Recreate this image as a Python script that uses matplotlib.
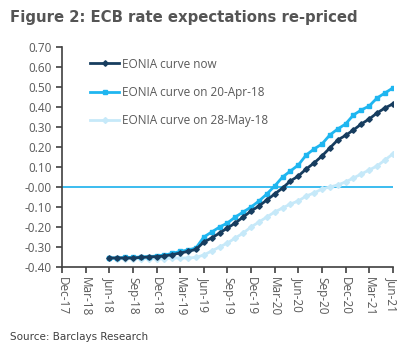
import numpy as np
import pandas as pd
import matplotlib.pyplot as plt

# monthly points Jun-18 .. Jun-21
months = pd.date_range("2018-06-01", "2021-06-01", freq="MS")

eonia_now = [-0.355, -0.355, -0.355, -0.355, -0.352, -0.350, -0.348,
             -0.345, -0.338, -0.330, -0.322, -0.312, -0.275, -0.255, -0.230, -0.205, -0.180, -0.150, -0.120,
             -0.095, -0.065, -0.035, -0.005, 0.030, 0.055, 0.090, 0.120, 0.155, 0.195, 0.235, 0.258,
             0.285, 0.315, 0.340, 0.370, 0.395, 0.415]
eonia_apr = [-0.355, -0.355, -0.352, -0.352, -0.350, -0.348, -0.345,
             -0.340, -0.332, -0.322, -0.315, -0.305, -0.250, -0.225, -0.200, -0.180, -0.150, -0.125, -0.100,
             -0.070, -0.035, 0.005, 0.050, 0.080, 0.110, 0.160, 0.190, 0.215, 0.260, 0.290, 0.315,
             0.360, 0.385, 0.405, 0.445, 0.470, 0.495]
eonia_may = [-0.355, -0.358, -0.358, -0.358, -0.358, -0.358, -0.358,
             -0.358, -0.355, -0.355, -0.355, -0.352, -0.340, -0.320, -0.300, -0.280, -0.255, -0.230, -0.200,
             -0.175, -0.150, -0.125, -0.105, -0.085, -0.070, -0.045, -0.030, -0.010, 0.000, 0.010, 0.025,
             0.045, 0.065, 0.085, 0.105, 0.135, 0.165]

tick_labels = ["Dec-17", "Mar-18", "Jun-18", "Sep-18", "Dec-18", "Mar-19", "Jun-19", "Sep-19",
               "Dec-19", "Mar-20", "Jun-20", "Sep-20", "Dec-20", "Mar-21", "Jun-21"]

# x as months since Dec-17
x = (months.year - 2017) * 12 + months.month - 12

fig = plt.figure(figsize=(4.17, 3.56), dpi=100)
ax = fig.add_axes([0.149, 0.25, 0.793, 0.618])

ax.axhline(0, color="#1ab0ec", lw=1.2, zorder=1)
ax.plot(x, eonia_may, color="#c6e9f9", lw=2, marker="D", ms=3, label="EONIA curve on 28-May-18", zorder=2)
ax.plot(x, eonia_apr, color="#1fb6f0", lw=2, marker="s", ms=3, label="EONIA curve on 20-Apr-18", zorder=3)
ax.plot(x, eonia_now, color="#173d5f", lw=2, marker="D", ms=2.8, label="EONIA curve now", zorder=4)

ax.set_xlim(0, 42)
ax.set_ylim(-0.40, 0.70)
ax.set_yticks(np.arange(-0.40, 0.71, 0.10))
ax.set_yticklabels([f"{v:.2f}" for v in np.arange(-0.40, 0.71, 0.10)])
ax.set_xticks(np.arange(0, 43, 3))
ax.set_xticklabels(tick_labels, rotation=-90)

for s in ["top", "right"]:
    ax.spines[s].set_visible(False)
for s in ["left", "bottom"]:
    ax.spines[s].set_color("#404040")
    ax.spines[s].set_linewidth(1.2)
ax.tick_params(colors="#404040", labelcolor="#595959", labelsize=8.5, length=4, width=1.2)
for lab in ax.get_xticklabels() + ax.get_yticklabels():
    lab.set_family("Open Sans")

handles, labels = ax.get_legend_handles_labels()
leg = ax.legend(handles[::-1], labels[::-1], loc="upper left", bbox_to_anchor=(0.052, 1.0),
                frameon=False, labelspacing=1.3, handlelength=2.5, handletextpad=0.2,
                prop={"family": "Open Sans", "size": 8.5})
for t in leg.get_texts():
    t.set_color("#595959")

fig.text(0.024, 0.95, "Figure 2: ECB rate expectations re-priced", fontsize=10.7,
         fontweight="bold", color="#555555", va="center", family="DejaVu Sans")
fig.text(0.024, 0.053, "Source: Barclays Research", fontsize=7.5, color="#404040",
         va="center", family="DejaVu Sans")

fig.savefig("out.png", dpi=100)
